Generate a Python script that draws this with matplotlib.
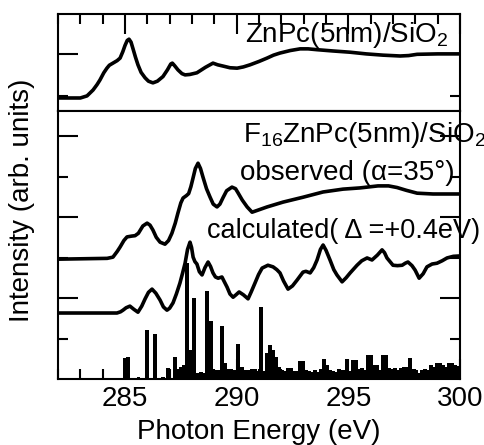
import matplotlib.pyplot as plt
import matplotlib.ticker as mticker

plt.rcParams['font.family'] = ['Liberation Sans', 'DejaVu Sans']
plt.rcParams['mathtext.fontset'] = 'custom'
plt.rcParams['mathtext.rm'] = 'Liberation Sans'
plt.rcParams['mathtext.it'] = 'Liberation Sans:italic'

# ZnPc(5nm)/SiO2 (top panel)
znpc_e = [282.0, 283.0, 283.3, 283.57, 283.75, 283.88, 284.05, 284.19, 284.3, 284.46,
          284.65, 284.78, 284.9, 285.0, 285.1, 285.18, 285.27, 285.36, 285.47, 285.58,
          285.72, 285.9, 286.05, 286.25, 286.45, 286.7, 286.9, 287.05, 287.12, 287.22,
          287.37, 287.55, 287.69, 287.9, 288.22, 288.6, 288.94, 289.15, 289.39, 289.7,
          290.02, 290.3, 290.6, 291.0, 291.36, 291.65, 291.94, 292.4, 292.84, 293.2,
          293.6, 294.3, 295.08, 295.8, 296.55, 297.32, 297.7, 298.08, 299.0, 300.0]
znpc_i = [-0.05, -0.05, 0.0, 0.14, 0.27, 0.38, 0.55, 0.66, 0.73, 0.78,
          0.84, 0.9, 1.05, 1.2, 1.32, 1.35, 1.28, 1.12, 0.92, 0.74,
          0.56, 0.43, 0.35, 0.31, 0.35, 0.46, 0.62, 0.76, 0.78, 0.72,
          0.62, 0.53, 0.5, 0.51, 0.55, 0.68, 0.78, 0.74, 0.71, 0.67,
          0.66, 0.69, 0.74, 0.82, 0.9, 0.97, 1.02, 1.08, 1.12, 1.12,
          1.1, 1.07, 1.04, 1.0, 0.97, 0.95, 0.96, 0.99, 1.0, 1.0]

# F16ZnPc observed (alpha=35 deg)
obs_e = [282.0, 284.2, 284.46, 284.65, 284.78, 284.95, 285.09, 285.3, 285.45, 285.6,
         285.8, 285.99, 286.12, 286.25, 286.4, 286.57, 286.79, 286.95, 287.1, 287.25,
         287.37, 287.5, 287.6, 287.75, 287.85, 287.95, 288.04, 288.15, 288.27, 288.38,
         288.49, 288.65, 288.81, 288.95, 289.12, 289.25, 289.39, 289.55, 289.79, 289.95,
         290.06, 290.25, 290.47, 290.69, 291.0, 291.36, 292.08, 292.97, 293.87, 294.76,
         295.52, 296.33, 296.8, 297.18, 297.6, 298.08, 298.79, 300.0]
obs_i = [2.96, 2.98, 3.01, 3.15, 3.26, 3.42, 3.51, 3.53, 3.54, 3.6,
         3.78, 3.85, 3.8, 3.68, 3.5, 3.38, 3.33, 3.42, 3.6, 3.85,
         4.1, 4.35, 4.47, 4.53, 4.58, 4.75, 4.95, 5.2, 5.33, 5.2,
         4.99, 4.7, 4.49, 4.32, 4.25, 4.32, 4.48, 4.65, 4.74, 4.7,
         4.6, 4.42, 4.25, 4.12, 4.18, 4.25, 4.37, 4.49, 4.62, 4.69,
         4.72, 4.77, 4.77, 4.73, 4.66, 4.59, 4.57, 4.57]

# calculated spectrum (shifted +0.4 eV)
calc_e = [282.0, 284.64, 284.8, 284.91, 285.05, 285.22, 285.4, 285.58, 285.75, 285.9,
          286.05, 286.21, 286.38, 286.57, 286.72, 286.88, 287.0, 287.15, 287.3, 287.46,
          287.58, 287.69, 287.8, 287.91, 287.98, 288.05, 288.13, 288.22, 288.33, 288.45,
          288.58, 288.72, 288.83, 288.94, 289.05, 289.17, 289.34, 289.45, 289.57, 289.7,
          289.84, 289.97, 290.11, 290.3, 290.51, 290.65, 290.82, 290.98, 291.14, 291.4,
          291.63, 291.8, 291.94, 292.1, 292.3, 292.5, 292.7, 292.97, 293.1, 293.29,
          293.45, 293.6, 293.75, 293.87, 294.0, 294.18, 294.35, 294.49, 294.72, 294.9,
          295.08, 295.39, 295.6, 295.84, 296.06, 296.3, 296.51, 296.62, 296.73, 297.0,
          297.2, 297.41, 297.55, 297.67, 297.85, 297.99, 298.17, 298.35, 298.52, 298.75,
          298.97, 299.2, 299.42, 299.7, 300.0]
calc_i = [1.63, 1.63, 1.66, 1.70, 1.76, 1.80, 1.72, 1.65, 1.80, 1.98,
          2.14, 2.22, 2.12, 1.95, 1.78, 1.70, 1.75, 1.88, 2.10, 2.37,
          2.62, 2.86, 3.20, 3.38, 3.25, 3.01, 2.90, 2.84, 2.65, 2.57,
          2.75, 2.89, 2.78, 2.62, 2.52, 2.49, 2.52, 2.40, 2.27, 2.10,
          2.02, 2.08, 2.15, 2.08, 1.98, 2.15, 2.37, 2.58, 2.74, 2.81,
          2.77, 2.70, 2.62, 2.42, 2.22, 2.30, 2.44, 2.64, 2.66, 2.62,
          2.75, 2.94, 3.20, 3.31, 3.18, 2.94, 2.70, 2.57, 2.40, 2.50,
          2.62, 2.81, 2.92, 2.99, 2.94, 3.06, 3.19, 3.12, 2.99, 2.81,
          2.80, 2.81, 2.86, 2.89, 2.80, 2.69, 2.49, 2.60, 2.77, 2.84,
          2.86, 2.92, 2.99, 3.03, 3.04]

# oscillator strengths (sticks)
stick_e = [285.0, 285.13, 285.6, 285.99, 286.34, 286.7, 286.93, 287.24, 287.37, 287.51,
           287.64, 287.78, 287.91, 288.09, 288.27, 288.4, 288.54, 288.67, 288.85, 289.03,
           289.17, 289.34, 289.48, 289.61, 289.75, 289.93, 290.06, 290.24, 290.37, 290.51,
           290.69, 290.82, 290.96, 291.09, 291.23, 291.36, 291.49, 291.63, 291.76, 291.9,
           292.03, 292.17, 292.3, 292.43, 292.57, 292.7, 292.84, 292.97, 293.11, 293.24,
           293.37, 293.51, 293.64, 293.78, 293.91, 294.05, 294.18, 294.32, 294.45, 294.58,
           294.72, 294.85, 294.94, 295.08, 295.21, 295.35, 295.48, 295.61, 295.75, 295.88,
           296.02, 296.15, 296.29, 296.42, 296.55, 296.69, 296.82, 296.96, 297.09, 297.23,
           297.36, 297.49, 297.63, 297.76, 297.9, 298.03, 298.17, 298.3, 298.44, 298.57,
           298.7, 298.84, 298.97, 299.11, 299.24, 299.38, 299.51, 299.64, 299.78, 299.91]
stick_h = [0.52, 0.54, 0.05, 1.21, 1.11, 0.05, 0.27, 0.54, 0.25, 0.30,
           0.35, 2.86, 0.72, 2.0, 0.15, 0.17, 0.15, 2.17, 1.43, 0.22,
           0.22, 1.31, 0.4, 0.25, 0.25, 0.22, 0.86, 0.30, 0.22, 0.22,
           0.25, 0.25, 0.2, 1.78, 0.2, 0.64, 0.84, 0.72, 0.54, 0.3,
           0.22, 0.2, 0.27, 0.27, 0.2, 0.2, 0.44, 0.44, 0.22, 0.2,
           0.17, 0.22, 0.17, 0.25, 0.49, 0.35, 0.22, 0.2, 0.17, 0.25,
           0.22, 0.22, 0.49, 0.2, 0.47, 0.47, 0.25, 0.27, 0.22, 0.59,
           0.59, 0.35, 0.35, 0.22, 0.59, 0.59, 0.27, 0.25, 0.27, 0.22,
           0.27, 0.30, 0.30, 0.52, 0.25, 0.22, 0.15, 0.22, 0.25, 0.22,
           0.35, 0.30, 0.40, 0.40, 0.35, 0.30, 0.40, 0.40, 0.35, 0.32]

fig = plt.figure(figsize=(4.85, 4.45), dpi=100)
left, width = 58 / 485, 402 / 485
ax_top = fig.add_axes([left, 1 - 111 / 445, width, 97 / 445])
ax = fig.add_axes([left, 1 - 379 / 445, width, 268 / 445])

lw_frame = 1.5
line_kw = dict(color='black', lw=2.6, solid_joinstyle='round', solid_capstyle='round')
for a in (ax_top, ax):
    for s in a.spines.values():
        s.set_linewidth(lw_frame)
    a.set_xlim(282, 300)
    a.xaxis.set_major_locator(mticker.MultipleLocator(5))
    a.xaxis.set_minor_locator(mticker.MultipleLocator(1))
    a.tick_params(which='major', length=14.5, width=lw_frame, direction='in')
    a.tick_params(which='minor', length=7.5, width=lw_frame, direction='in')
    a.tick_params(axis='y', left=True, right=True, labelleft=False, which='both')

# top panel
ax_top.plot(znpc_e, znpc_i, **line_kw)
ax_top.set_ylim(-0.36, 1.95)
ax_top.set_yticks([1])
ax_top.set_yticks([0], minor=True)
ax_top.tick_params(axis='x', which='both', top=True, bottom=False,
                   labelbottom=False, labeltop=False)
ax_top.text(290.37, 1.28, r'ZnPc(5nm)/SiO$_2$', fontsize=20, va='baseline', clip_on=False)

# bottom panel
ax.bar(stick_e, stick_h, width=0.15, color='black', linewidth=0)
ax.plot(obs_e, obs_i, **line_kw)
ax.plot(calc_e, calc_i, **line_kw)
ax.set_ylim(0, 6.62)
ax.set_yticks([2, 4, 6])
ax.set_yticks([1, 3, 5], minor=True)
ax.tick_params(axis='x', which='both', top=False, bottom=True, labelsize=20, pad=5)

ax.text(290.28, 5.85, r'F$_{16}$ZnPc(5nm)/SiO$_2$', fontsize=20, va='baseline', clip_on=False)
ax.text(290.15, 4.91, 'observed (α=35°)', fontsize=20, va='baseline', clip_on=False)
ax.text(288.67, 3.48, 'calculated( Δ =+0.4eV)', fontsize=19.5, va='baseline', clip_on=False)

fig.text(259 / 485, 1 - 439 / 445, 'Photon Energy (eV)', fontsize=20,
         ha='center', va='baseline')
fig.text(22 / 485, 1 - 200 / 445, 'Intensity (arb. units)', fontsize=20,
         rotation=90, ha='center', va='center')

fig.savefig('out.png', dpi=100)
